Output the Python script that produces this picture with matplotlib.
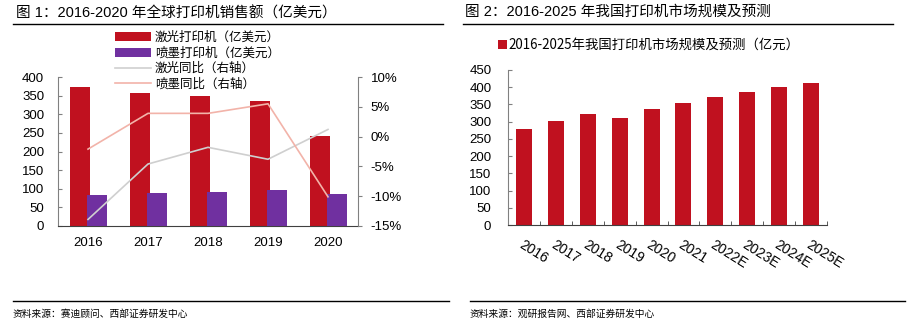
import matplotlib
matplotlib.use("Agg")
import matplotlib.pyplot as plt
from matplotlib.patches import Patch
from matplotlib.lines import Line2D
from matplotlib.ticker import FuncFormatter

plt.rcParams['font.family'] = ['Liberation Sans', 'Noto Sans CJK SC']

# ---- data: chart 1 ----
years1 = ['2016', '2017', '2018', '2019', '2020']
laser_sales = [373, 356, 349, 336, 241]
inkjet_sales = [84, 88, 90, 96, 86]
laser_yoy = [-13.9, -4.6, -1.8, -3.8, 1.2]
inkjet_yoy = [-2.1, 3.9, 3.9, 5.5, -10.1]

# ---- data: chart 2 ----
years2 = ['2016', '2017', '2018', '2019', '2020', '2021', '2022E', '2023E', '2024E', '2025E']
cn_market = [280, 302, 323, 310, 338, 355, 372, 387, 400, 411]

RED = '#C0111F'
PURPLE = '#7030A0'
GREY = '#CFCFCF'
PINK = '#F2B3A9'
CJK = ['Noto Sans CJK SC', 'DejaVu Sans']

W, H = 915, 331
fig = plt.figure(figsize=(W / 100, H / 100), dpi=100)

def fx(px):
    return px / W

def fy(py):
    return 1 - py / H

# titles and rules
fig.text(fx(16), fy(13), '图 1：2016-2020 年全球打印机销售额（亿美元）', fontsize=10.5,
         va='center', ha='left')
fig.text(fx(465), fy(12), '图 2：2016-2025 年我国打印机市场规模及预测', fontsize=10.5,
         va='center', ha='left')
for x0, x1, y in [(13, 443, 24), (463, 893, 24), (13, 449, 301), (470, 905, 301)]:
    fig.add_artist(Line2D([fx(x0), fx(x1)], [fy(y), fy(y)], color='black', lw=1.0,
                          transform=fig.transFigure))
fig.text(fx(13), fy(314), '资料来源：赛迪顾问、西部证券研发中心', fontsize=7, va='center',
         ha='left', family=CJK)
fig.text(fx(470), fy(314), '资料来源：观研报告网、西部证券研发中心', fontsize=7, va='center',
         ha='left', family=CJK)

# ---- chart 1 ----
ax1 = fig.add_axes([fx(58), fy(226), fx(358) - fx(58), fy(77) - fy(226)])
x = list(range(len(years1)))
bw = 1 / 3
ax1.bar([i - 0.14 for i in x], laser_sales, width=bw, color=RED, zorder=2)
ax1.bar([i + 0.15 for i in x], inkjet_sales, width=bw, color=PURPLE, zorder=3)
ax1.set_xlim(-0.5, 4.5)
ax1.set_ylim(0, 400)
ax1.set_yticks(range(0, 401, 50))
ax1.set_xticks(x)
ax1.set_xticklabels(years1)
for s in ['top', 'right']:
    ax1.spines[s].set_visible(False)
ax1.spines['left'].set_color('#808080')
ax1.spines['bottom'].set_color('#404040')
ax1.tick_params(axis='y', direction='in', length=3, pad=10, labelsize=9.5, color='#808080')
ax1.tick_params(axis='x', length=0, pad=8, labelsize=9.5)

ax1b = ax1.twinx()
ax1b.plot(x, laser_yoy, color=GREY, lw=1.2, zorder=4)
ax1b.plot(x, inkjet_yoy, color=PINK, lw=1.2, zorder=4)
ax1b.set_ylim(-15, 10)
ax1b.set_yticks(range(-15, 11, 5))
ax1b.yaxis.set_major_formatter(FuncFormatter(lambda v, p: f'{int(v)}%'))
for s in ['top', 'left', 'bottom']:
    ax1b.spines[s].set_visible(False)
ax1b.spines['right'].set_color('#808080')
ax1b.tick_params(axis='y', direction='out', length=3, pad=6, labelsize=9.5, color='#808080')

handles = [Patch(facecolor=RED, label='激光打印机（亿美元）'),
           Patch(facecolor=PURPLE, label='喷墨打印机（亿美元）'),
           Line2D([], [], color=GREY, lw=1.2, label='激光同比（右轴）'),
           Line2D([], [], color=PINK, lw=1.2, label='喷墨同比（右轴）')]
fig.legend(handles=handles, loc='upper left', bbox_to_anchor=(fx(115), fy(31)),
           frameon=False, prop={'family': CJK, 'size': 9}, handlelength=2.9,
           handleheight=0.75, labelspacing=0.2, handletextpad=0.3, borderpad=0,
           borderaxespad=0)

# ---- chart 2 ----
ax2 = fig.add_axes([fx(508), fy(225), fx(827) - fx(508), fy(70) - fy(225)])
x2 = list(range(len(years2)))
ax2.bar(x2, cn_market, width=0.5, color=RED, zorder=2)
ax2.set_xlim(-0.5, 9.5)
ax2.set_ylim(0, 450)
ax2.set_yticks(range(0, 451, 50))
ax2.set_xticks(x2)
ax2.set_xticklabels(years2, rotation=-32, ha='left', va='top', rotation_mode='anchor')
ax2.set_xticks([i - 0.5 for i in range(len(years2) + 1)], minor=True)
for s in ['top', 'right']:
    ax2.spines[s].set_visible(False)
ax2.spines['left'].set_color('#808080')
ax2.spines['bottom'].set_color('#404040')
ax2.tick_params(axis='y', direction='in', length=3, pad=12, labelsize=9.5, color='#808080')
ax2.tick_params(axis='x', which='major', length=0, pad=9, labelsize=10)
ax2.tick_params(axis='x', which='minor', direction='in', length=3, color='#404040')
fig.legend(handles=[Patch(facecolor=RED, label='2016-2025年我国打印机市场规模及预测（亿元）')],
           loc='center left', bbox_to_anchor=(fx(498), fy(45)), frameon=False,
           prop={'family': CJK, 'size': 9.6}, handlelength=0.7, handleheight=0.7,
           handletextpad=0.1, borderpad=0, borderaxespad=0)

fig.savefig('out.png', dpi=100)
